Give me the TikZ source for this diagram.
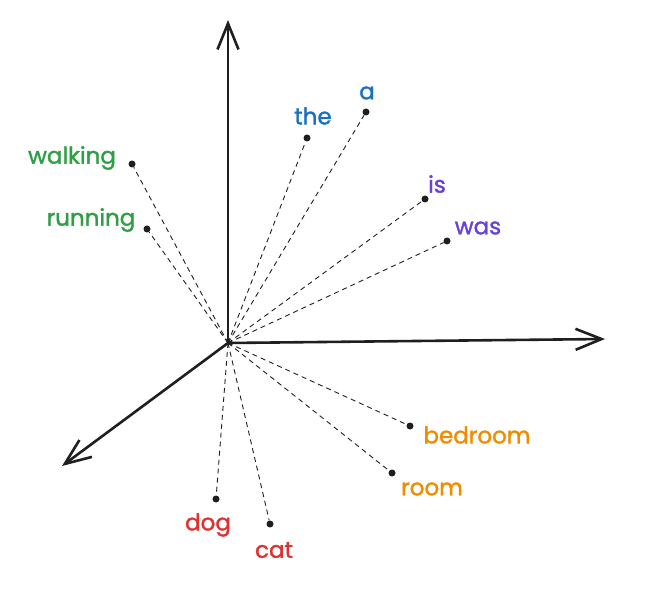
\documentclass[tikz,border=0pt]{standalone}
\usepackage{fontspec}
\setmainfont{Poppins}
\newfontfamily\handfont[FakeBold=1.5]{Poppins}
\usetikzlibrary{arrows.meta}
\definecolor{wgreen}{HTML}{2F9E44}
\definecolor{wblue}{HTML}{1971C2}
\definecolor{wviolet}{HTML}{6741D9}
\definecolor{worange}{HTML}{F08C00}
\definecolor{wred}{HTML}{E03131}

\begin{document}
\begin{tikzpicture}[x=1pt,y=-1pt]
  \tikzstyle{point}=[circle,fill=black!88,minimum size=7pt,inner sep=0pt]
  \tikzstyle{word}=[font=\handfont\fontsize{23}{23}\selectfont,inner sep=0pt]
  \tikzstyle{link}=[black!88,line width=0.9pt,dash pattern=on 5pt off 4pt]
  \tikzstyle{axis}=[black!88,line width=2.6pt,line cap=round,
    -{Straight Barb[length=26pt,width=21pt,line width=2.6pt]}]

  \useasboundingbox (0,0) rectangle (647,593);

  \coordinate (o) at (228,343);
  \coordinate (ytip) at (228,20);
  \coordinate (xtip) at (605,339);
  \coordinate (ztip) at (62,466);

  \foreach \w/\x/\y/\lx/\ly/\c in {
      walking/132/164/72/158/wgreen, running/147/229/91/220/wgreen,
      the/307/138/313/116/wblue, a/366/112/367/93/wblue,
      is/425/199/437/184/wviolet, was/447/241/478/228/wviolet,
      bedroom/410/426/477/435/worange, room/392/473/432/489/worange,
      dog/216/499/208/525/wred, cat/270/524/274/550/wred} {
    \node[point] (\w) at (\x,\y) {};
    \draw[link] (o) -- (\w);
    \node[word,text=\c] (\w-label) at (\lx,\ly) {\w};
  }

  \foreach \t in {ytip,xtip,ztip}
    \draw[axis] (o) -- (\t);
\end{tikzpicture}
\end{document}
